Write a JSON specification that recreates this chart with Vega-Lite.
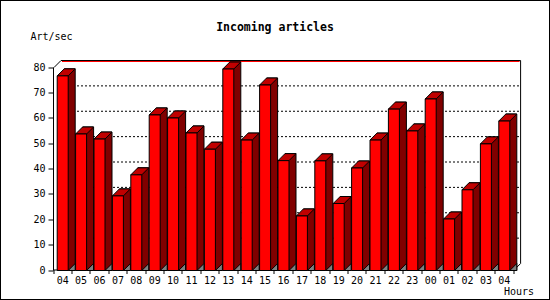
{
  "$schema": "https://vega.github.io/schema/vega-lite/v6.json",
  "width": 550,
  "height": 300,
  "autosize": {"type": "none"},
  "padding": 0,
  "background": "white",
  "title": {
    "text": "Incoming articles",
    "font": "DejaVu Sans Mono",
    "fontSize": 11.5,
    "fontWeight": "bold",
    "color": "black",
    "anchor": "middle",
    "frame": "group",
    "orient": "top",
    "offset": 0,
    "baseline": "alphabetic",
    "dy": 42
  },
  "data": {
    "values": [
      {"slot": "1-04", "art": 76.7},
      {"slot": "1-05", "art": 53.8},
      {"slot": "1-06", "art": 51.8},
      {"slot": "1-07", "art": 29.4},
      {"slot": "1-08", "art": 37.7},
      {"slot": "1-09", "art": 61.3},
      {"slot": "1-10", "art": 60.1},
      {"slot": "1-11", "art": 54.2},
      {"slot": "1-12", "art": 47.8},
      {"slot": "1-13", "art": 79.4},
      {"slot": "1-14", "art": 51.4},
      {"slot": "1-15", "art": 73.1},
      {"slot": "1-16", "art": 43.3},
      {"slot": "1-17", "art": 21.5},
      {"slot": "1-18", "art": 43.2},
      {"slot": "1-19", "art": 26.4},
      {"slot": "1-20", "art": 40.4},
      {"slot": "1-21", "art": 51.4},
      {"slot": "1-22", "art": 63.6},
      {"slot": "1-23", "art": 55.0},
      {"slot": "2-00", "art": 67.6},
      {"slot": "2-01", "art": 20.3},
      {"slot": "2-02", "art": 31.8},
      {"slot": "2-03", "art": 49.9},
      {"slot": "2-04", "art": 58.9}
    ]
  },
  "encoding": {
    "x": {
      "field": "slot",
      "type": "nominal",
      "sort": null,
      "scale": {
        "type": "band",
        "domain": ["1-04","1-05","1-06","1-07","1-08","1-09","1-10","1-11","1-12","1-13","1-14","1-15","1-16","1-17","1-18","1-19","1-20","1-21","1-22","1-23","2-00","2-01","2-02","2-03","2-04"],
        "range": [53.5, 513.5],
        "paddingInner": 0,
        "paddingOuter": 0
      },
      "axis": {
        "orient": "bottom",
        "offset": -30,
        "translate": 0,
        "tickBand": "extent",
        "tickSize": 4,
        "tickColor": "black",
        "domainColor": "black",
        "labelColor": "black",
        "labelFont": "DejaVu Sans Mono",
        "labelFontSize": 10,
        "labelAngle": 0,
        "labelPadding": 2,
        "labelExpr": "slice(datum.label, 2)",
        "title": "Hours",
        "titleFont": "DejaVu Sans Mono",
        "titleFontSize": 10,
        "titleFontWeight": "normal",
        "titleColor": "black",
        "titleAlign": "left",
        "titleBaseline": "middle",
        "titleX": 504,
        "titleY": 22,
        "grid": false
      }
    },
    "y": {
      "field": "art",
      "type": "quantitative",
      "scale": {"domain": [0, 80], "range": [270.5, 67.5], "nice": false, "zero": true},
      "axis": {
        "orient": "left",
        "offset": -53.5,
        "translate": 0,
        "values": [0, 10, 20, 30, 40, 50, 60, 70, 80],
        "tickSize": 5,
        "tickColor": "black",
        "domainColor": "black",
        "labelColor": "black",
        "labelFont": "DejaVu Sans Mono",
        "labelFontSize": 10,
        "labelPadding": 3,
        "title": "Art/sec",
        "titleFont": "DejaVu Sans Mono",
        "titleFontSize": 10,
        "titleFontWeight": "normal",
        "titleColor": "black",
        "titleAngle": 0,
        "titleAlign": "left",
        "titleBaseline": "middle",
        "titleX": -23,
        "titleY": 37,
        "grid": false
      }
    }
  },
  "layer": [
    {
      "data": {"values": [{"g": 10}, {"g": 20}, {"g": 30}, {"g": 40}, {"g": 50}, {"g": 60}, {"g": 70}]},
      "mark": {"type": "rule", "color": "black", "strokeWidth": 1, "strokeDash": [2, 2], "yOffset": -7, "xOffset": -1.7, "x2Offset": 16.3},
      "encoding": {
        "x": {"datum": "1-04"},
        "x2": {"datum": "2-04"},
        "y": {"field": "g", "type": "quantitative"}
      }
    },
    {
      "data": {"values": [{"g": 80}]},
      "mark": {"type": "rule", "color": "#ff0000", "strokeWidth": 1, "yOffset": -6, "xOffset": -0.7, "x2Offset": 15.3},
      "encoding": {
        "x": {"datum": "1-04"},
        "x2": {"datum": "2-04"},
        "y": {"field": "g", "type": "quantitative"}
      }
    },
    {
      "data": {"values": [{"g": 80}]},
      "mark": {"type": "rule", "color": "black", "strokeWidth": 1, "yOffset": -7, "xOffset": -1.7, "x2Offset": 16.3},
      "encoding": {
        "x": {"datum": "1-04"},
        "x2": {"datum": "2-04"},
        "y": {"field": "g", "type": "quantitative"}
      }
    },
    {
      "data": {"values": [{"g": 80, "g0": 0}]},
      "mark": {"type": "rule", "color": "black", "strokeWidth": 1, "xOffset": 16.3, "x2Offset": 16.3, "yOffset": -7, "y2Offset": -7},
      "encoding": {
        "x": {"datum": "2-04"},
        "x2": {"datum": "2-04"},
        "y": {"field": "g", "type": "quantitative"},
        "y2": {"field": "g0"}
      }
    },
    {
      "data": {"values": [{"g": 0, "g0": 0}]},
      "mark": {"type": "rule", "color": "black", "strokeWidth": 1, "xOffset": 16.3, "x2Offset": 9.3, "yOffset": -7, "y2Offset": 0},
      "encoding": {
        "x": {"datum": "2-04"},
        "x2": {"datum": "2-04"},
        "y": {"field": "g", "type": "quantitative"},
        "y2": {"field": "g0"}
      }
    },
    {
      "data": {"values": [{"g": 80, "g0": 80}]},
      "mark": {"type": "rule", "color": "black", "strokeWidth": 1, "xOffset": -8.7, "x2Offset": -1.7, "yOffset": 0, "y2Offset": -7},
      "encoding": {
        "x": {"datum": "1-04"},
        "x2": {"datum": "1-04"},
        "y": {"field": "g", "type": "quantitative"},
        "y2": {"field": "g0"}
      }
    },
    {
      "mark": {"type": "bar", "width": 11, "fill": "#800000", "stroke": "black", "strokeWidth": 1, "xOffset": 7, "yOffset": -7, "y2Offset": 0},
      "encoding": {
        "y2": {"datum": 0}
      }
    },
    {
      "mark": {"type": "point", "shape": "M 5.5 0 L 12.5 -7 L 12.5 0 Z", "size": 4, "filled": true, "fill": "#808080", "stroke": "black", "strokeWidth": 1, "opacity": 1},
      "encoding": {
        "y": {"datum": 0}
      }
    },
    {
      "mark": {"type": "point", "shape": "M -5.5 0 L 5.5 0 L 12.5 -7 L 1.5 -7 Z", "size": 4, "filled": true, "fill": "#c00000", "stroke": "black", "strokeWidth": 1, "opacity": 1}
    },
    {
      "mark": {"type": "bar", "width": 11, "fill": "#ff0000", "stroke": "black", "strokeWidth": 1}
    }
  ],
  "config": {
    "view": {"stroke": "black", "strokeWidth": 2},
    "axis": {"domainWidth": 1, "tickWidth": 1}
  }
}
